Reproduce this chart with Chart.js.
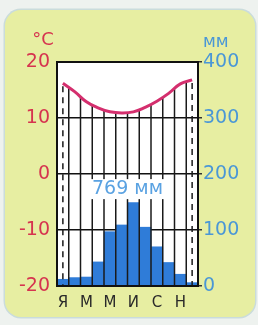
<!DOCTYPE html>
<html><head><meta charset="utf-8">
<script src="https://cdn.jsdelivr.net/npm/chart.js@4.4.0/dist/chart.umd.min.js"></script>
<style>
html,body{margin:0;padding:0;background:#eef2ef;width:258px;height:325px;overflow:hidden;}
.card{position:absolute;left:5px;top:10px;width:250px;height:307px;border-radius:16px;background:#e7eea2;box-shadow:0 0 0 1.5px #cadcdc;}
#wrap{position:absolute;left:0;top:0;width:258px;height:325px;}
</style></head><body>
<div class="card"></div>
<div id="wrap"><canvas id="c" width="258" height="325"></canvas></div>
<script>
const months = ['Я','Ф','М','А','М','И','И','А','С','О','Н','Д'];
const temperature = [16.2, 14.7, 12.9, 11.8, 11.1, 10.9, 11.1, 11.9, 13.0, 14.4, 16.1, 16.8];
const precipitation = [12, 15, 16, 43, 97, 109, 149, 105, 70, 42, 21, 6];
const tempRange = [-20, 20];
const precipRange = [0, 400];
const totalPrecip = 769;
const tempUnit = '°C';
const precipUnit = 'мм';

const FONT = 'DejaVu Sans';
const RED = '#d6344f';
const BLUE_TXT = '#4a97d6';
const BAR = '#2f7cd8';
const CURVE = '#d42f6e';

function bez(a, b, c, d, t) {
  const u = 1 - t;
  return u*u*u*a + 3*u*u*t*b + 3*u*t*t*c + t*t*t*d;
}

const decor = {
  id: 'decor',
  beforeDraw(chart) {
    const {ctx, chartArea: a} = chart;
    ctx.save();
    ctx.fillStyle = '#ffffff';
    ctx.fillRect(a.left, a.top, a.right - a.left, a.bottom - a.top);
    ctx.restore();
  },
  afterDatasetDraw(chart, args) {
    if (args.index !== 0) return;
    const {ctx, chartArea: a} = chart;
    const pts = chart.getDatasetMeta(1).data;
    ctx.save();
    ctx.strokeStyle = '#1a1a1a';
    ctx.lineWidth = 1.5;
    for (let i = 0; i < pts.length - 1; i++) {
      const p = pts[i], q = pts[i + 1];
      const xt = (p.x + q.x) / 2;
      let lo = 0, hi = 1;
      for (let k = 0; k < 30; k++) {
        const m = (lo + hi) / 2;
        if (bez(p.x, p.cp2x, q.cp1x, q.x, m) < xt) lo = m; else hi = m;
      }
      const t = (lo + hi) / 2;
      const y = bez(p.y, p.cp2y, q.cp1y, q.y, t);
      ctx.beginPath();
      ctx.moveTo(xt, a.bottom);
      ctx.lineTo(xt, y);
      ctx.stroke();
    }
    ctx.setLineDash([6, 5]);
    [pts[0], pts[pts.length - 1]].forEach(p => {
      ctx.beginPath();
      ctx.moveTo(p.x, p.y + 3);
      ctx.lineTo(p.x, a.bottom);
      ctx.stroke();
    });
    ctx.setLineDash([]);
    const xs = chart.scales.x, yp = chart.scales.yP;
    const cx = (xs.getPixelForValue(5) + xs.getPixelForValue(6)) / 2;
    const cy = yp.getPixelForValue(173);
    const txt = totalPrecip + ' ' + precipUnit;
    ctx.font = '19px "' + FONT + '"';
    const w = ctx.measureText(txt).width;
    ctx.fillStyle = '#ffffff';
    ctx.fillRect(cx - w / 2 - 2, cy - 10, w + 4, 20);
    ctx.fillStyle = '#5aa2e2';
    ctx.textAlign = 'center';
    ctx.textBaseline = 'middle';
    ctx.fillText(txt, cx, cy);
    ctx.restore();
  },
  afterDraw(chart) {
    const {ctx, chartArea: a} = chart;
    ctx.save();
    ctx.strokeStyle = '#111';
    ctx.lineWidth = 2;
    ctx.strokeRect(a.left, a.top, a.right - a.left, a.bottom - a.top);
    ctx.textBaseline = 'alphabetic';
    ctx.font = '18px "' + FONT + '"';
    ctx.fillStyle = RED;
    ctx.textAlign = 'center';
    ctx.fillText(tempUnit, a.left - 14, a.top - 17);
    ctx.font = '17px "' + FONT + '"';
    ctx.fillStyle = BLUE_TXT;
    ctx.textAlign = 'left';
    ctx.fillText(precipUnit, a.right + 5, a.top - 15);
    ctx.restore();
  }
};

new Chart(document.getElementById('c'), {
  data: {
    labels: months,
    datasets: [
      {type: 'bar', data: precipitation, yAxisID: 'yP', backgroundColor: BAR,
       barPercentage: 1, categoryPercentage: 1, borderWidth: 0, order: 2},
      {type: 'line', data: temperature, yAxisID: 'yT', borderColor: CURVE, borderWidth: 3,
       pointRadius: 0, tension: 0.45, fill: false, order: 1}
    ]
  },
  options: {
    responsive: false, animation: false, devicePixelRatio: 1,
    layout: {padding: {top: 62, left: 0, right: 0, bottom: 0}},
    plugins: {legend: {display: false}, tooltip: {enabled: false}},
    scales: {
      x: {type: 'category', offset: true,
          grid: {display: false}, border: {display: false},
          ticks: {autoSkip: false, maxRotation: 0, color: '#2a2a2a', padding: 0,
                  font: {family: FONT, size: 15},
                  callback: (v, i) => i % 2 === 0 ? months[i] : ''},
          afterFit: s => { s.height = 39; }},
      yT: {position: 'left', min: tempRange[0], max: tempRange[1], z: 1,
           ticks: {stepSize: 10, color: RED, padding: 7, font: {family: FONT, size: 19}},
           grid: {color: '#111', lineWidth: 1.5, drawTicks: false},
           border: {display: false},
           afterFit: s => { s.width = 57; }},
      yP: {position: 'right', min: precipRange[0], max: precipRange[1],
           ticks: {stepSize: 100, color: BLUE_TXT, padding: 1, font: {family: FONT, size: 19}},
           grid: {drawOnChartArea: false, tickLength: 4, color: '#333', lineWidth: 1.5},
           border: {display: false},
           afterFit: s => { s.width = 60; }}
    }
  },
  plugins: [decor]
});
</script>
</body></html>
